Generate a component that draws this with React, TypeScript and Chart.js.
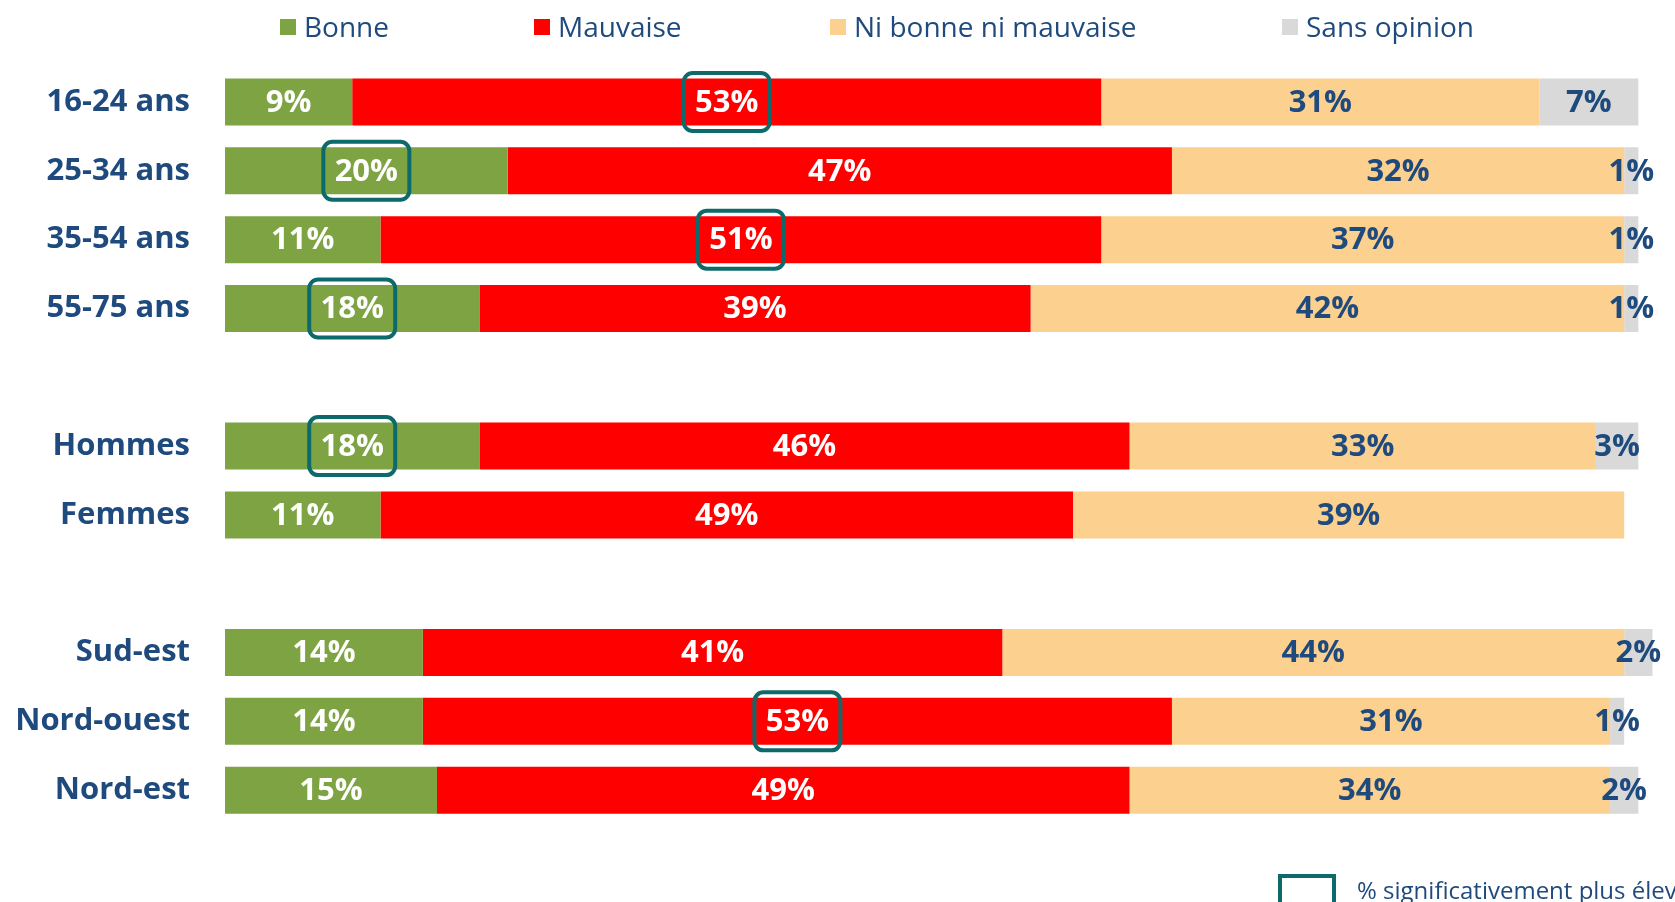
import React, { useEffect, useRef } from "react";
import { Chart, registerables } from "chart.js";

Chart.register(...registerables);

const categories = [
  "16-24 ans",
  "25-34 ans",
  "35-54 ans",
  "55-75 ans",
  "",
  "Hommes",
  "Femmes",
  "",
  "Sud-est",
  "Nord-ouest",
  "Nord-est",
];

const bonne = [9, 20, 11, 18, null, 18, 11, null, 14, 14, 15];
const mauvaise = [53, 47, 51, 39, null, 46, 49, null, 41, 53, 49];
const niBonneNiMauvaise = [31, 32, 37, 42, null, 33, 39, null, 44, 31, 34];
const sansOpinion = [7, 1, 1, 1, null, 3, null, null, 2, 1, 2];

// significantly higher flags
const sigBonne = [false, true, false, true, false, true, false, false, false, false, false];
const sigMauvaise = [true, false, true, false, false, false, false, false, false, true, false];
const sigNi = [false, false, false, false, false, false, false, false, false, false, false];
const sigSans = [false, false, false, false, false, false, false, false, false, false, false];

const seriesNames = ["Bonne", "Mauvaise", "Ni bonne ni mauvaise", "Sans opinion"];
const noteText = "% significativement plus élevé";

const COLORS = ["#7EA343", "#FF0000", "#FCD08E", "#D9D9D9"];
const LABEL_COLORS = ["#FFFFFF", "#FFFFFF", "#1F4A7E", "#1F4A7E"];
const BLUE = "#1F4A7E";
const TEAL = "#0E6A6A";
const FONT = "'Open Sans', 'Liberation Sans', sans-serif";

function roundRect(ctx: CanvasRenderingContext2D, x: number, y: number, w: number, h: number, r: number) {
  ctx.beginPath();
  ctx.moveTo(x + r, y);
  ctx.lineTo(x + w - r, y);
  ctx.arcTo(x + w, y, x + w, y + r, r);
  ctx.lineTo(x + w, y + h - r);
  ctx.arcTo(x + w, y + h, x + w - r, y + h, r);
  ctx.lineTo(x + r, y + h);
  ctx.arcTo(x, y + h, x, y + h - r, r);
  ctx.lineTo(x, y + r);
  ctx.arcTo(x, y, x + r, y, r);
  ctx.closePath();
}

const labelsPlugin = {
  id: "segLabels",
  afterDatasetsDraw(chart: any) {
    const ctx: CanvasRenderingContext2D = chart.ctx;
    ctx.save();
    ctx.font = `bold 31px ${FONT}`;
    ctx.textAlign = "center";
    ctx.textBaseline = "middle";
    chart.data.datasets.forEach((ds: any, i: number) => {
      const meta = chart.getDatasetMeta(i);
      meta.data.forEach((bar: any, j: number) => {
        const v = ds.data[j];
        if (v == null || v === 0) return;
        const p = bar.getProps(["x", "y", "base"], true);
        const cx = (p.x + p.base) / 2;
        const cy = p.y;
        if (ds.sig && ds.sig[j]) {
          ctx.strokeStyle = TEAL;
          ctx.lineWidth = 4;
          roundRect(ctx, cx - 43, cy - 29, 86, 58, 9);
          ctx.stroke();
        }
        ctx.fillStyle = LABEL_COLORS[i];
        ctx.fillText(`${v}%`, cx, cy + 1);
      });
    });
    ctx.restore();
  },
};

const legendPlugin = {
  id: "customLegend",
  afterDraw(chart: any) {
    const ctx: CanvasRenderingContext2D = chart.ctx;
    const boxX = [280, 534, 830, 1282];
    ctx.save();
    ctx.font = `28px ${FONT}`;
    ctx.textAlign = "left";
    ctx.textBaseline = "middle";
    chart.data.datasets.forEach((ds: any, i: number) => {
      ctx.fillStyle = ds.backgroundColor;
      ctx.fillRect(boxX[i], 19, 16, 16);
      ctx.fillStyle = BLUE;
      ctx.fillText(ds.label, boxX[i] + 24, 29);
    });
    // note at the bottom right
    ctx.strokeStyle = TEAL;
    ctx.lineWidth = 4;
    ctx.strokeRect(1280, 876, 54, 40);
    ctx.font = `24px ${FONT}`;
    ctx.textBaseline = "alphabetic";
    ctx.fillStyle = BLUE;
    ctx.fillText(noteText, 1357, 899);
    ctx.restore();
  },
};

export default function App() {
  const ref = useRef<HTMLCanvasElement | null>(null);

  useEffect(() => {
    if (!ref.current) return;
    const values = [bonne, mauvaise, niBonneNiMauvaise, sansOpinion];
    const sigs = [sigBonne, sigMauvaise, sigNi, sigSans];
    const chart = new Chart(ref.current, {
      type: "bar",
      data: {
        labels: categories,
        datasets: seriesNames.map((name, i) => ({
          label: name,
          data: values[i],
          backgroundColor: COLORS[i],
          borderWidth: 0,
          barPercentage: 0.683,
          categoryPercentage: 1,
          sig: sigs[i],
        })) as any,
      },
      options: {
        indexAxis: "y",
        responsive: false,
        animation: false,
        layout: { padding: { top: 67.6, bottom: 77.4, left: 0, right: 8.4 } },
        plugins: {
          legend: { display: false },
          tooltip: { enabled: false },
        },
        scales: {
          x: { stacked: true, min: 0, max: 102, display: false },
          y: {
            stacked: true,
            grid: { display: false, drawTicks: false },
            border: { display: false },
            ticks: {
              autoSkip: false,
              padding: 35,
              color: BLUE,
              font: { family: FONT, size: 31, weight: "bold" },
            },
            afterFit(scale: any) {
              scale.width = 225;
            },
          },
        },
      } as any,
      plugins: [labelsPlugin, legendPlugin],
    });
    return () => chart.destroy();
  }, []);

  return (
    <div style={{ position: "absolute", left: 0, top: 0, width: 1675, height: 902, background: "#fff" }}>
      <canvas ref={ref} width={1675} height={902} />
    </div>
  );
}
